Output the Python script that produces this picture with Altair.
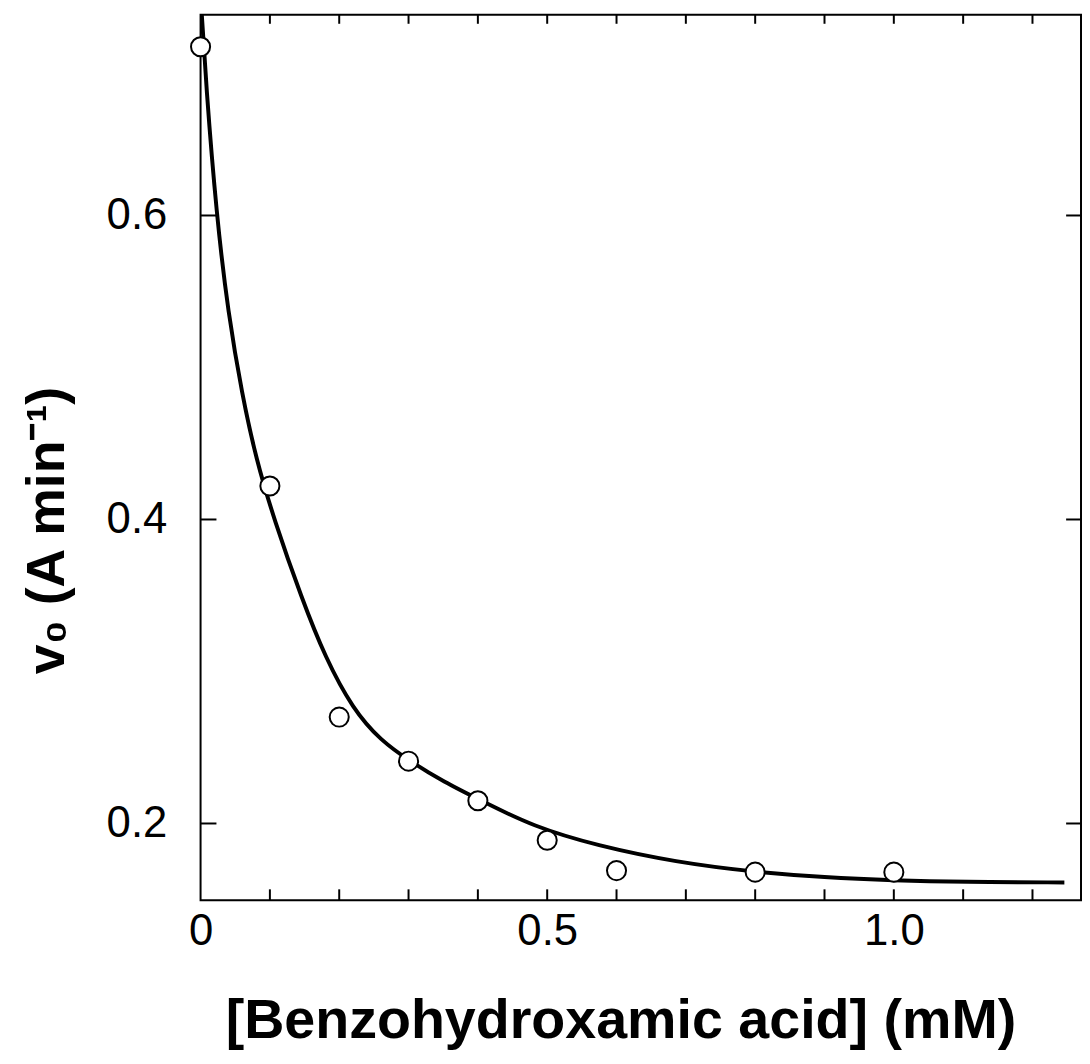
import altair as alt
import pandas as pd

# Measured data points (open circles)
conc = [0.0, 0.1, 0.2, 0.3, 0.4, 0.5, 0.6, 0.8, 1.0]
rate = [0.711, 0.422, 0.270, 0.241, 0.215, 0.189, 0.169, 0.168, 0.168]

# Fitted curve
fit_x = [0.000, 0.008, 0.023, 0.040, 0.060, 0.080, 0.106, 0.146, 0.180, 0.220,
         0.260, 0.302, 0.350, 0.407, 0.480, 0.571, 0.686, 0.800, 0.900, 1.000,
         1.100, 1.246]
fit_y = [0.745, 0.685, 0.600, 0.535, 0.482, 0.440, 0.400, 0.348, 0.309, 0.275,
         0.2545, 0.241, 0.2275, 0.2145, 0.198, 0.1855, 0.1745, 0.1680, 0.1645,
         0.1625, 0.1615, 0.1612]

# Axis ticks / labels
x_ticks = [0.1, 0.2, 0.3, 0.4, 0.5, 0.6, 0.7, 0.8, 0.9, 1.0, 1.1, 1.2]
x_labels = [0.0, 0.5, 1.0]
y_ticks = [0.2, 0.4, 0.6]

W, H = 887, 892
FONT = "Liberation Sans"

xs = alt.Scale(domain=[0, 1.27], nice=False, zero=False)
ys = alt.Scale(domain=[0.1495, 0.732], nice=False, zero=False)

pts_df = pd.DataFrame({"x": conc, "y": rate})
fit_df = pd.DataFrame({"x": fit_x, "y": fit_y})
xt_df = pd.DataFrame({"x": x_ticks})
yt_df = pd.DataFrame({"y": y_ticks})

x_axis = alt.Axis(
    values=x_labels, ticks=False, domain=False, grid=False,
    labelExpr="datum.value == 0 ? '0' : format(datum.value, '.1f')",
    labelFont=FONT, labelFontSize=44, labelColor="black", labelPadding=10,
    labelFlush=False, labelOverlap=False,
    title="[Benzohydroxamic acid] (mM)", titleFont=FONT, titleFontSize=56,
    titleFontWeight="bold", titleColor="black",
    titleX=423, titleY=138, titleAlign="center", titleBaseline="alphabetic",
)
y_axis = alt.Axis(
    values=y_ticks, ticks=False, domain=False, grid=False, format=".1f",
    labelFont=FONT, labelFontSize=44, labelColor="black", labelPadding=34,
    labelFlush=False, labelOverlap=False,
    title="v₀ (A min⁻¹)", titleFont=FONT, titleFontSize=54,
    titleFontWeight="bold", titleColor="black", titleAngle=270,
    titleX=-138, titleY=519, titleAlign="center", titleBaseline="alphabetic",
)

X = lambda: alt.X("x:Q", scale=xs, axis=x_axis)
Y = lambda: alt.Y("y:Q", scale=ys, axis=y_axis)

fit = alt.Chart(fit_df).mark_line(
    color="black", strokeWidth=4, clip=True, interpolate="basis"
).encode(x=X(), y=Y())

tick_left = alt.Chart(yt_df).mark_rule(color="black", strokeWidth=2).encode(
    y=Y(), x=alt.value(0), x2=alt.value(16)
)
tick_right = alt.Chart(yt_df).mark_rule(color="black", strokeWidth=2).encode(
    y=Y(), x=alt.value(W - 15), x2=alt.value(W)
)
tick_bottom = alt.Chart(xt_df).mark_rule(color="black", strokeWidth=2).encode(
    x=X(), y=alt.value(H - 11), y2=alt.value(H)
)
tick_top = alt.Chart(xt_df).mark_rule(color="black", strokeWidth=2).encode(
    x=X(), y=alt.value(0), y2=alt.value(9)
)

points = alt.Chart(pts_df).mark_point(
    shape="circle", filled=True, fill="white", stroke="black",
    strokeWidth=2, size=370, opacity=1
).encode(x=X(), y=Y())

chart = alt.layer(fit, tick_left, tick_right, tick_bottom, tick_top, points).properties(
    width=W, height=H,
    padding={"left": 194, "top": 3, "right": 1, "bottom": 150},
    autosize=alt.AutoSizeParams(type="none"),
    background="white",
).configure_view(stroke="black", strokeWidth=2)

chart.save("out.html", embed_options={"renderer": "svg", "actions": False})
